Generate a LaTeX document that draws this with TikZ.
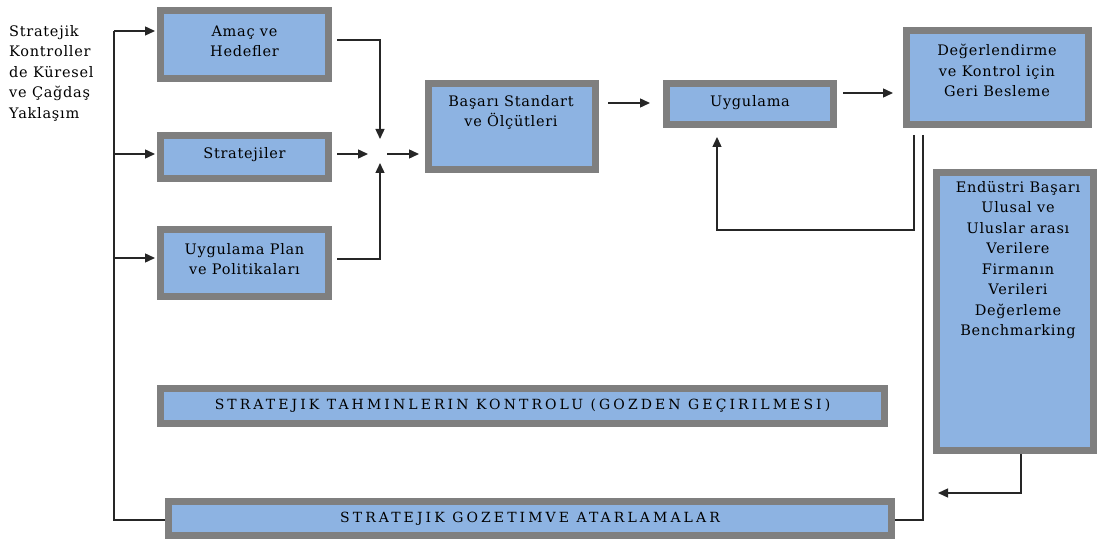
\documentclass[tikz,border=0pt]{standalone}
\usepackage{fontspec}
\setmainfont{DejaVu Serif}
\newfontfamily\boxfont[LetterSpace=5]{DejaVu Serif}
\newfontfamily\capfont[LetterSpace=22]{DejaVu Serif}
\usetikzlibrary{arrows.meta}
\definecolor{boxfill}{HTML}{8DB3E2}
\definecolor{boxline}{HTML}{7F7F7F}
\begin{document}
\begin{tikzpicture}[x=1pt,y=-1pt,
  box/.style={draw=boxline, fill=boxfill, line width=7pt, inner sep=0pt},
  txt/.style={font=\boxfont\fontsize{14.5}{20.5}\selectfont, align=center, inner sep=0pt},
  captxt/.style={font=\capfont\fontsize{14}{20.5}\selectfont, inner sep=0pt},
  conn/.style={line width=1.4pt, black!85},
  arr/.style={conn, -{Triangle[length=10pt,width=9pt]}}]
\useasboundingbox (0,0) rectangle (1097,540);

% boxes
\node[box, minimum width=168pt, minimum height=68pt] (amac) at (244.5,44.5) {};
\node[box, minimum width=168pt, minimum height=43pt] (strat) at (244.5,157) {};
\node[box, minimum width=168pt, minimum height=67pt] (plan) at (244.5,263) {};
\node[box, minimum width=167pt, minimum height=86pt] (basari) at (512,126.5) {};
\node[box, minimum width=167pt, minimum height=41pt] (uyg) at (750,104) {};
\node[box, minimum width=182pt, minimum height=94pt] (deger) at (997.5,77.5) {};
\node[box, minimum width=157pt, minimum height=278pt] (endus) at (1015,311.5) {};
\node[box, minimum width=724pt, minimum height=35pt] (tahmin) at (522.5,406) {};
\node[box, minimum width=723pt, minimum height=34pt] (gozet) at (530,518.5) {};

% texts
\node[txt, align=left, anchor=west] (ltext) at (9,73) {Stratejik\\Kontroller\\de Küresel\\ve Çağdaş\\Yaklaşım};
\node[txt] (amact) at (244.5,41.5) {Amaç ve\\Hedefler};
\node[txt] (stratt) at (244.5,155) {Stratejiler};
\node[txt] (plant) at (244.5,259) {Uygulama Plan\\ve Politikaları};
\node[txt] (basarit) at (511,112.5) {Başarı Standart\\ve Ölçütleri};
\node[txt] (uygt) at (750,103) {Uygulama};
\node[txt] (degert) at (997,70.5) {Değerlendirme\\ve Kontrol için\\Geri Besleme};
\node[txt] (endust) at (1018,260) {Endüstri Başarı\\Ulusal ve\\Uluslar arası\\Verilere\\Firmanın\\Verileri\\Değerleme\\Benchmarking};
\node[captxt] (tahmint) at (522.5,406) {STRATEJIK TAHMINLERIN KONTROLU (GOZDEN GEÇIRILMESI)};
\node[captxt] (gozett) at (530,519) {STRATEJIK GOZETIMVE ATARLAMALAR};

% coordinates
\coordinate (Ltop) at (114,31);
\coordinate (Lstr) at (114,154);
\coordinate (Lplan) at (114,258);
\coordinate (Lbot) at (114,520);
\coordinate (Jn) at (380,139);
\coordinate (Js) at (380,163);
\coordinate (Jw) at (368,154);
\coordinate (Je) at (387,154);
\coordinate (a1) at (0,40);
\coordinate (p1) at (0,259);
\coordinate (bu) at (0,103);
\coordinate (ud) at (0,93);
\coordinate (f1) at (914,230);
\coordinate (f0) at (717,230);
\coordinate (g1) at (923,520);
\coordinate (e1) at (1021,493);
\coordinate (e0) at (938,493);

% connectors
\draw[conn] (Ltop) -- (Lbot) -- (Lbot -| gozet.west);
\draw[arr, shorten >=2pt] (Ltop) -- (Ltop -| amac.west);
\draw[arr, shorten >=2pt] (Lstr) -- (Lstr -| strat.west);
\draw[arr, shorten >=2pt] (Lplan) -- (Lplan -| plan.west);
\draw[arr, shorten <=5pt] (amac.east |- a1) -| (Jn);
\draw[arr, shorten <=5pt] (strat.east |- Jw) -- (Jw);
\draw[arr, shorten <=5pt] (plan.east |- p1) -| (Js);
\draw[arr, shorten >=6pt] (Je) -- (Je -| basari.west);
\draw[arr, shorten <=9pt, shorten >=13pt] (basari.east |- bu) -- (uyg.west |- bu);
\draw[arr, shorten <=6pt, shorten >=10pt] (uyg.east |- ud) -- (deger.west |- ud);
\draw[arr, shorten <=7pt, shorten >=9pt] (deger.south -| f1) -- (f1) -- (f0) -- (uyg.south -| f0);
\draw[conn, shorten <=7pt] (deger.south -| g1) -- (g1) -- (gozet.east |- g1);
\draw[arr] (endus.south -| e1) -- (e1) -- (e0);
\end{tikzpicture}
\end{document}
